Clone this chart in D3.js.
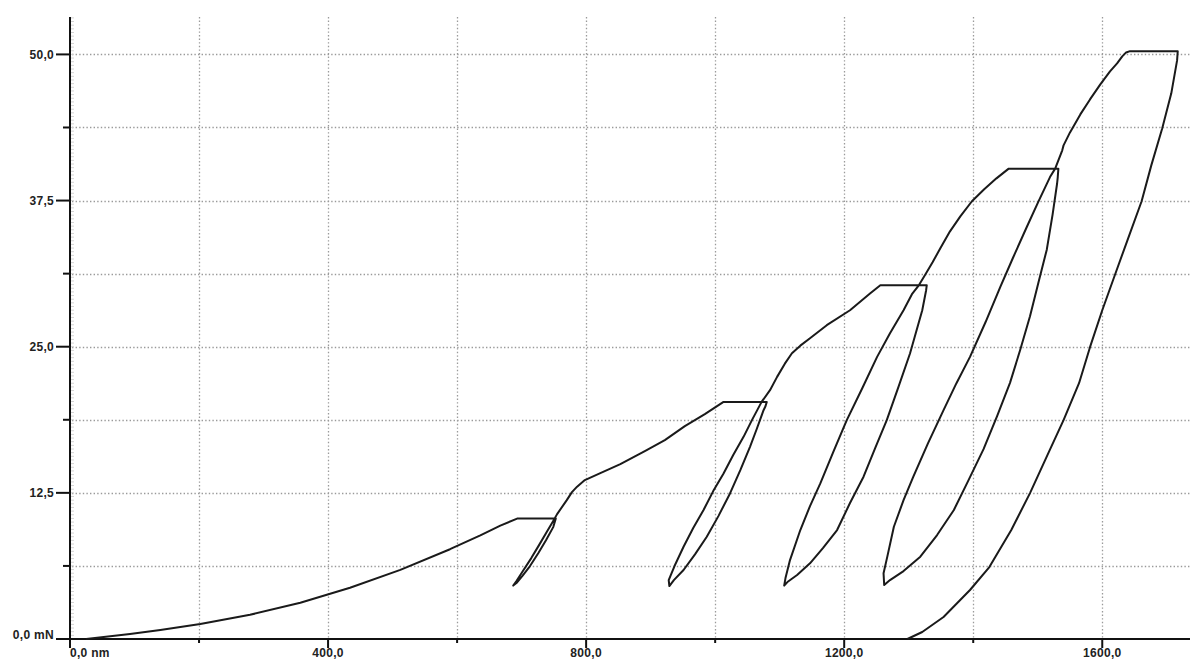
<!DOCTYPE html>
<html>
<head>
<meta charset="utf-8">
<script src="https://cdn.jsdelivr.net/npm/d3@7"></script>
<style>
  html, body { margin: 0; padding: 0; background: #fff; }
  svg text { font-family: "Liberation Sans", Arial, sans-serif; font-weight: bold; fill: #222; }
</style>
</head>
<body>
<svg id="chart" width="1190" height="661"></svg>
<script>
// Load–depth curve, [depth nm, force mN]

const load1 = [[25, 0], [93, 0.43], [140, 0.77], [202, 1.28], [279, 2.07], [357, 3.10],
    [434, 4.38], [512, 5.91], [589, 7.68], [636, 8.86], [667, 9.70], [693, 10.30]];
const unload1 = [[753, 10.30], [749, 9.57], [738, 8.46], [726, 7.35], [713, 6.24],
    [701, 5.38], [692, 4.79], [687, 4.57]];
const reload1 = [[692, 4.96], [702, 5.81], [715, 6.92], [727, 8.03], [738, 9.06],
    [749, 10.09], [755, 10.68], [770, 11.88]];

const load2 = [[778, 12.56], [786, 13.03], [798, 13.59], [822, 14.19], [853, 14.96],
    [891, 16.07], [922, 17.01], [953, 18.21], [984, 19.23], [1013, 20.28]];
const unload2 = [[1080, 20.28], [1078, 19.91], [1075, 19.57], [1064, 17.9], [1054, 16.44],
    [1039, 14.44], [1023, 12.45], [1005, 10.51], [987, 8.74], [969, 7.26], [951, 5.90],
    [936, 5.04], [929, 4.53]];
const reload2 = [[928, 5.04], [937, 6.24], [951, 7.89], [966, 9.49], [982, 11.03],
    [997, 12.65], [1013, 14.16], [1028, 15.73], [1044, 17.29], [1057, 18.72],
    [1072, 20.28], [1085, 21.28]];

const load3 = [[1096, 22.42], [1108, 23.55], [1119, 24.44], [1132, 25.09], [1147, 25.73],
    [1173, 26.84], [1209, 28.12], [1240, 29.55], [1256, 30.26]];
const unload3 = [[1328, 30.26], [1327, 29.83], [1321, 28.12], [1302, 24.42], [1284, 21.54],
    [1266, 18.72], [1248, 16.33], [1230, 13.88], [1209, 11.63], [1189, 9.32], [1167, 7.78],
    [1147, 6.47], [1127, 5.47], [1112, 4.87], [1107, 4.57]];
const reload3 = [[1109, 5.21], [1116, 6.75], [1132, 9.32], [1147, 11.37], [1163, 13.31],
    [1183, 15.98], [1204, 18.72], [1228, 21.45], [1251, 24.13], [1271, 26.15],
    [1292, 28.12], [1305, 29.49], [1315, 30.20]];

const load4 = [[1326, 31.20], [1337, 32.22], [1349, 33.42], [1364, 34.87], [1380, 36.15],
    [1398, 37.44], [1417, 38.46], [1436, 39.40], [1455, 40.23]];
const unload4 = [[1532, 40.23], [1531, 39.49], [1530, 38.96], [1523, 36.29], [1514, 33.30],
    [1501, 30.48], [1488, 27.61], [1473, 24.76], [1457, 21.91], [1437, 19.06], [1416, 16.24],
    [1392, 13.50], [1370, 11.03], [1344, 8.89], [1318, 7.04], [1292, 5.81], [1271, 5.04],
    [1262, 4.62]];
const reload4 = [[1261, 5.62], [1267, 7.09], [1277, 9.60], [1292, 11.88], [1307, 13.87],
    [1330, 16.75], [1354, 19.57], [1374, 21.88], [1395, 24.13], [1419, 27.09],
    [1442, 30.11], [1462, 32.65], [1483, 35.24], [1501, 37.41], [1519, 39.51],
    [1527, 40.23], [1538, 41.80]];

const load5 = [[1540, 42.22], [1550, 43.33], [1566, 44.87], [1581, 46.15], [1597, 47.44],
    [1612, 48.55], [1623, 49.23], [1631, 49.83], [1637, 50.17], [1643, 50.28]];
const unload5 = [[1717, 50.28], [1716, 49.49], [1707, 46.67], [1693, 43.68], [1676, 40.51],
    [1661, 37.44], [1639, 34.10], [1620, 31.20], [1600, 28.12], [1581, 24.96],
    [1564, 21.88], [1540, 18.72], [1515, 15.73], [1488, 12.48], [1459, 9.32],
    [1425, 6.15], [1395, 4.19], [1354, 1.88], [1321, 0.60], [1298, 0]];

const curve = [].concat(load1, unload1, reload1, load2, unload2, reload2, load3,
    unload3, reload3, load4, unload4, reload4, load5, unload5);

const yMajorTicks = [0, 12.5, 25, 37.5, 50];
const yTickLabels = ['0,0 mN', '12,5', '25,0', '37,5', '50,0'];
const yHalfTicks = [6.25, 18.75, 31.25, 43.75];
const xMajorTicks = [0, 400, 800, 1200, 1600];
const xTickLabels = ['0,0 nm', '400,0', '800,0', '1200,0', '1600,0'];
const xHalfTicks = [200, 600, 1000, 1400];

const svg = d3.select('#chart');
const x = d3.scaleLinear().domain([0, 1736]).range([70, 1190]);
const y = d3.scaleLinear().domain([0, 53.2]).range([639, 17]);

// Grid
const gridY = d3.range(6.25, 50.01, 6.25);
const gridX = d3.range(200, 1600.1, 200);
svg.append('g').selectAll('line').data(gridY).join('line')
    .attr('x1', x(0) + 2).attr('x2', 1190)
    .attr('y1', d => Math.round(y(d)) + 0.5).attr('y2', d => Math.round(y(d)) + 0.5)
    .attr('stroke', '#9a9a9a').attr('stroke-width', 1.3).attr('stroke-dasharray', '1.4,2.2');
svg.append('g').selectAll('line').data(gridX).join('line')
    .attr('x1', d => Math.round(x(d)) + 0.5).attr('x2', d => Math.round(x(d)) + 0.5)
    .attr('y1', y(53.2)).attr('y2', y(0))
    .attr('stroke', '#9a9a9a').attr('stroke-width', 1.3).attr('stroke-dasharray', '1.4,2.2');

// faint ruler ticks on the y axis
svg.append('g').selectAll('line').data(d3.range(0, 53.2, 0.3125)).join('line')
    .attr('x1', x(0) + 1).attr('x2', x(0) + 4)
    .attr('y1', d => y(d)).attr('y2', d => y(d))
    .attr('stroke', '#d4d4d4').attr('stroke-width', 1);

// Axes
const yAxis = svg.append('g').attr('transform', `translate(${x(0)},0)`);
yAxis.append('line').attr('x1', 0).attr('x2', 0).attr('y1', y(53.2)).attr('y2', y(0) + 1)
    .attr('stroke', '#111').attr('stroke-width', 2);
yAxis.selectAll('.maj').data(yMajorTicks).join('line').attr('class', 'maj')
    .attr('x1', -14).attr('x2', 0).attr('y1', d => y(d)).attr('y2', d => y(d))
    .attr('stroke', '#111').attr('stroke-width', 2);
yAxis.selectAll('.half').data(yHalfTicks).join('line').attr('class', 'half')
    .attr('x1', -7).attr('x2', 0).attr('y1', d => y(d)).attr('y2', d => y(d))
    .attr('stroke', '#111').attr('stroke-width', 2);
yAxis.selectAll('text').data(yMajorTicks).join('text')
    .attr('x', -16).attr('y', d => y(d) + (d === 0 ? -4 : 0))
    .attr('dy', '0.35em').attr('text-anchor', 'end')
    .attr('font-size', 12).attr('letter-spacing', '0.3px')
    .text((d, i) => yTickLabels[i]);

const xAxis = svg.append('g').attr('transform', `translate(0,${y(0)})`);
xAxis.append('line').attr('x1', x(0) - 1).attr('x2', 1190).attr('y1', 0).attr('y2', 0)
    .attr('stroke', '#111').attr('stroke-width', 2);
xAxis.selectAll('.maj').data(xMajorTicks).join('line').attr('class', 'maj')
    .attr('x1', d => x(d)).attr('x2', d => x(d)).attr('y1', 0).attr('y2', 9)
    .attr('stroke', '#111').attr('stroke-width', 2);
xAxis.selectAll('.half').data(xHalfTicks).join('line').attr('class', 'half')
    .attr('x1', d => x(d)).attr('x2', d => x(d)).attr('y1', 0).attr('y2', 4)
    .attr('stroke', '#111').attr('stroke-width', 2);
xAxis.selectAll('text').data(xMajorTicks).join('text')
    .attr('x', d => x(d)).attr('y', 18)
    .attr('text-anchor', d => d === 0 ? 'start' : 'middle')
    .attr('font-size', 12).attr('letter-spacing', '0.3px')
    .text((d, i) => xTickLabels[i]);

// Curve
const line = d3.line().x(d => x(d[0])).y(d => y(d[1])).curve(d3.curveLinear);
svg.append('path').datum(curve)
    .attr('d', line)
    .attr('fill', 'none')
    .attr('stroke', '#1a1a1a')
    .attr('stroke-width', 2)
    .attr('stroke-linejoin', 'round');
</script>
</body>
</html>
